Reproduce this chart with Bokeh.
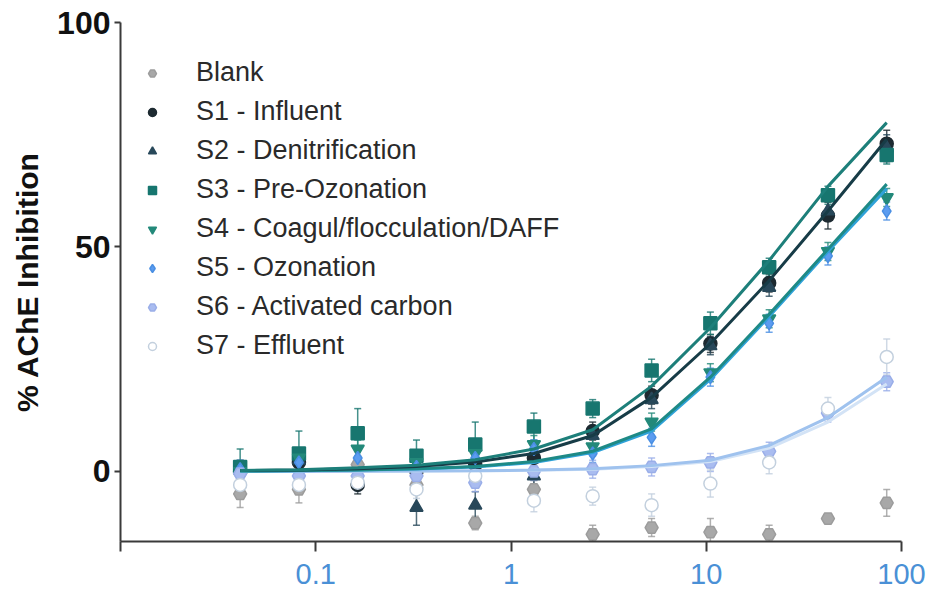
from bokeh.plotting import figure
from bokeh.models import (Range1d, FixedTicker, CustomJSTickFormatter, Legend, LegendItem,
                          Whisker, ColumnDataSource, TeeHead)
from bokeh.embed import file_html
from bokeh.resources import INLINE

# ---- data ----
conc = [0.041, 0.082, 0.164, 0.328, 0.656, 1.31, 2.62, 5.25, 10.5, 21.0, 42.0, 84.0]

series_names = ["Blank", "S1 - Influent", "S2 - Denitrification", "S3 - Pre-Ozonation",
                "S4 - Coagul/flocculation/DAFF", "S5 - Ozonation", "S6 - Activated carbon",
                "S7 - Effluent"]

blank = [-5, -4, 1.5, -3, -11.5, -4, -14, -12.5, -13.5, -14, -10.5, -7]
s1 = [0, 2, -3, 0, 1.5, 3, 9, 17, 28.5, 42, 57, 73]
s2 = [0.5, 2.5, -2, -8, -7.5, -1, 8, 16, 28, 41, 58, 72]
s3 = [1, 4, 8.5, 3.5, 6, 10, 14, 22.5, 33, 45.5, 61.5, 70.5]
s4 = [0, 3, 5, 2, 4, 6, 5.5, 11, 22, 34, 49, 61]
s5 = [0.5, 2, 3, 1, 3, 5, 4, 7.6, 21, 33, 48, 58]
s6 = [-0.5, -1, -1, -1, -2.5, 0, 0.5, 1, 2, 4.5, 13, 20]
s7 = [-3, -3, -2.5, -4, -1, -6.5, -5.5, -7.5, -2.7, 2, 14, 25.5]

blank_err = [3, 3, 2, 2, 1.5, 2, 2, 2, 3, 2, 1, 3]
s1_err = [2, 2, 2, 2, 2, 2, 2, 2, 2, 2, 3, 3]
s2_err = [2, 2, 2, 4, 3, 2, 2, 2, 2, 2, 2, 3]
s3_err = [4, 5, 5.5, 3.5, 5, 3, 2, 2.5, 2.5, 2, 2, 2]
s4_err = [2, 2, 2, 2, 2, 2, 2, 2, 2, 2, 2, 2]
s5_err = [2, 2, 2, 2, 2, 2, 2, 2, 2, 2, 2, 2]
s6_err = [2, 2, 2, 2, 2, 2, 2, 2, 2, 2, 2, 2]
s7_err = [2, 2, 2, 2, 2, 2.5, 2, 2.5, 3, 2.5, 2.5, 4]

# fitted curves, read at the dilution positions
s1_fit = [0.2, 0.3, 0.6, 1.1, 2.1, 4, 8, 16.5, 28.5, 42.5, 58, 74]
s3_fit = [0.2, 0.4, 0.8, 1.4, 2.6, 5, 9.3, 19, 32, 47, 63.5, 77.7]
s4_fit = [0.1, 0.2, 0.35, 0.6, 1.1, 2.2, 4.5, 9.5, 21, 35, 49.5, 64]
s5_fit = [0.1, 0.15, 0.3, 0.55, 1.0, 2.0, 4.2, 9, 20.5, 34.5, 49, 63]
s6_fit = [0, 0, 0.05, 0.1, 0.15, 0.3, 0.6, 1.3, 2.5, 5.8, 12, 21]
s7_fit = [0, 0, 0.05, 0.1, 0.15, 0.25, 0.5, 1.1, 2.2, 5.2, 11, 19.5]

x_ticks = [0.01, 0.1, 1, 10, 100]
y_ticks = [0, 50, 100]

# ---- styling ----
FONT = "Liberation Sans"
styles = [
    dict(marker="hex", color="#9c9c9c", fill="#a8a8a8"),
    dict(marker="circle", color="#1d2a31", fill="#1d2a31"),
    dict(marker="triangle", color="#28485a", fill="#28485a"),
    dict(marker="square", color="#17766f", fill="#17766f"),
    dict(marker="inverted_triangle", color="#23897a", fill="#23897a"),
    dict(marker="diamond", color="#4a8fe3", fill="#5b9cf0"),
    dict(marker="hex", color="#9aaee8", fill="#a9bcf0"),
    dict(marker="circle", color="#c3d0de", fill="#ffffff"),
]
values = [blank, s1, s2, s3, s4, s5, s6, s7]
errors = [blank_err, s1_err, s2_err, s3_err, s4_err, s5_err, s6_err, s7_err]

p = figure(width=932, height=592, x_axis_type="log",
           x_range=Range1d(0.01, 100), y_range=Range1d(-15.6, 100),
           output_backend="svg", toolbar_location=None,
           min_border_left=120, min_border_right=31, min_border_top=22, min_border_bottom=51)
p.outline_line_color = None
p.xgrid.visible = False
p.ygrid.visible = False
p.background_fill_color = "white"

legend_items = []
for name, st, vals, errs in zip(series_names, styles, values, errors):
    src = ColumnDataSource(dict(x=conc, y=vals,
                                lo=[v - e for v, e in zip(vals, errs)],
                                hi=[v + e for v, e in zip(vals, errs)]))
    w = Whisker(base="x", lower="lo", upper="hi", source=src, dimension="height",
                line_color=st["color"], line_width=1.5, line_alpha=0.8,
                upper_head=TeeHead(size=7, line_color=st["color"], line_width=1.5, line_alpha=0.8),
                lower_head=TeeHead(size=7, line_color=st["color"], line_width=1.5, line_alpha=0.8))
    p.add_layout(w)
    r = p.scatter("x", "y", source=src, marker=st["marker"], size=13,
                  fill_color=st["fill"], line_color=st["color"], line_width=1.5)
    legend_items.append(LegendItem(label=name, renderers=[r]))

curves = [(s7_fit, "#d3e3f6"), (s6_fit, "#9fc2ee"), (s5_fit, "#2fa2d8"), (s4_fit, "#1e8a86"),
          (s1_fit, "#173c47"), (s3_fit, "#1d7f7a")]
for fit, col in curves:
    p.line(conc, fit, line_color=col, line_width=3)

legend = Legend(items=legend_items, location=(22, 180), orientation="vertical",
                border_line_color=None, background_fill_alpha=0,
                glyph_width=20, glyph_height=20, label_height=20,
                label_standoff=34, spacing=8, padding=0, margin=0,
                label_text_font=FONT, label_text_font_size="27px", label_text_color="#2a2a2a")
p.add_layout(legend)

# axes
p.xaxis.ticker = FixedTicker(ticks=x_ticks)
p.xaxis.formatter = CustomJSTickFormatter(code="return tick < 0.05 ? '' : tick.toString();")
p.xaxis.major_label_text_font = FONT
p.xaxis.major_label_text_font_size = "29px"
p.xaxis.major_label_text_color = "#4a90d6"
p.xaxis.major_label_standoff = 12
p.xaxis.major_tick_out = 10
p.xaxis.major_tick_in = 0
p.xaxis.minor_tick_out = 0
p.xaxis.minor_tick_in = 0

p.yaxis.ticker = FixedTicker(ticks=y_ticks)
p.yaxis.major_label_text_font = FONT
p.yaxis.major_label_text_font_style = "bold"
p.yaxis.major_label_text_font_size = "32px"
p.yaxis.major_label_text_color = "#111111"
p.yaxis.major_label_standoff = 4
p.yaxis.major_tick_out = 6
p.yaxis.major_tick_in = 0
p.yaxis.minor_tick_out = 0
p.yaxis.minor_tick_in = 0
p.yaxis.axis_label = "% AChE Inhibition"
p.yaxis.axis_label_text_font = FONT
p.yaxis.axis_label_text_font_style = "bold"
p.yaxis.axis_label_text_font_size = "30px"
p.yaxis.axis_label_text_color = "#111111"
p.yaxis.axis_label_standoff = 10

for ax in (p.xaxis, p.yaxis):
    ax.axis_line_width = 2
    ax.axis_line_color = "#3a3a3a"
    ax.major_tick_line_width = 2
    ax.major_tick_line_color = "#3a3a3a"

open("out.html", "w").write(file_html(p, INLINE))
